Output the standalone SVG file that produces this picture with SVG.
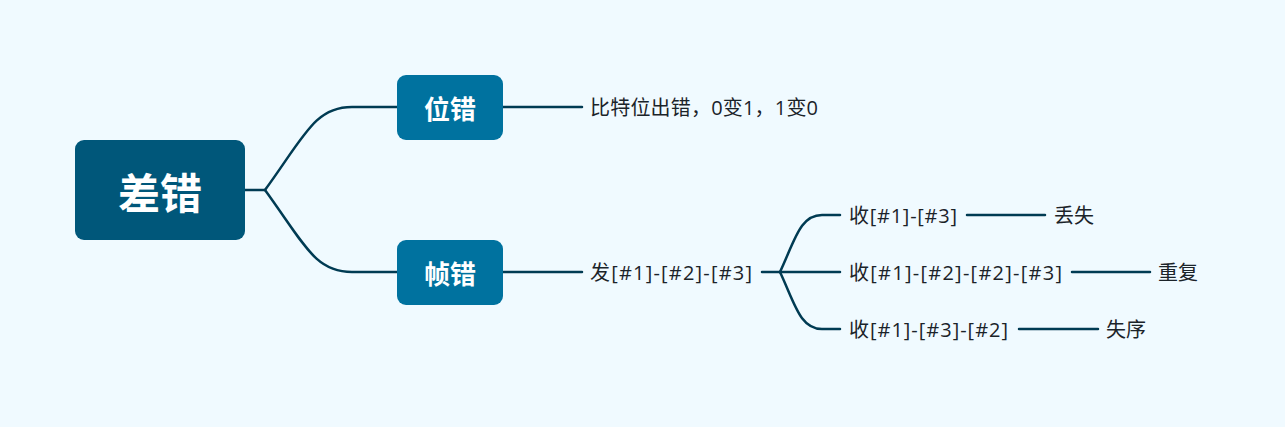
<svg xmlns="http://www.w3.org/2000/svg" width="1285" height="427" viewBox="0 0 1285 427">
<style>
.bg{fill:#f0faff}
.root{fill:#00577a}
.br{fill:#00729f}
.lbl{font-family:"Noto Sans CJK SC","Noto Sans",sans-serif;fill:#ffffff;font-weight:bold;text-anchor:middle;dominant-baseline:central}
.txt{font-family:"Open Sans","Noto Sans CJK SC",sans-serif;fill:#1b2329;font-size:20px;dominant-baseline:central}
.ln{fill:none;stroke:#003b53;stroke-width:2.5;stroke-linecap:round}
</style>
<rect class="bg" x="0" y="0" width="1285" height="427"/>
<g id="connectors">
<path class="ln" d="M245,190 L265,190"/>
<path class="ln" d="M265,190 C305,135 315,107 352,107 L397,107"/>
<path class="ln" d="M265,190 C305,245 315,272 352,272 L397,272"/>
<path class="ln" d="M503,107 L582,107"/>
<path class="ln" d="M503,272 L582,272"/>
<path class="ln" d="M762,272 L780,272"/>
<path class="ln" d="M780,272 C795,240 800,215 822,215 L840,215"/>
<path class="ln" d="M780,272 L840,272"/>
<path class="ln" d="M780,272 C795,304 800,329 822,329 L840,329"/>
<path class="ln" d="M967,215 L1045,215"/>
<path class="ln" d="M1072,272 L1150,272"/>
<path class="ln" d="M1019,329 L1098,329"/>
</g>
<g id="root">
<rect class="root" x="75" y="140" width="170" height="100" rx="9"/>
<text class="lbl" x="160" y="190" font-size="42">差错</text>
</g>
<g id="n-bit">
<rect class="br" x="397" y="75" width="106" height="65" rx="9"/>
<text class="lbl" x="450" y="107" font-size="26">位错</text>
</g>
<g id="n-frame">
<rect class="br" x="397" y="240" width="106" height="65" rx="9"/>
<text class="lbl" x="450" y="272" font-size="26">帧错</text>
</g>
<g id="t-bit"><text class="txt" x="590" y="107" textLength="228" lengthAdjust="spacing">比特位出错，0变1，1变0</text></g>
<g id="t-send"><text class="txt" x="590" y="272" textLength="162" lengthAdjust="spacing">发[#1]-[#2]-[#3]</text></g>
<g id="t-r1"><text class="txt" x="849" y="215" textLength="108" lengthAdjust="spacing">收[#1]-[#3]</text></g>
<g id="t-r2"><text class="txt" x="849" y="272" textLength="213" lengthAdjust="spacing">收[#1]-[#2]-[#2]-[#3]</text></g>
<g id="t-r3"><text class="txt" x="849" y="329" textLength="159" lengthAdjust="spacing">收[#1]-[#3]-[#2]</text></g>
<g id="t-lost"><text class="txt" x="1054" y="215">丢失</text></g>
<g id="t-dup"><text class="txt" x="1158" y="272">重复</text></g>
<g id="t-ord"><text class="txt" x="1106" y="329">失序</text></g>
</svg>
